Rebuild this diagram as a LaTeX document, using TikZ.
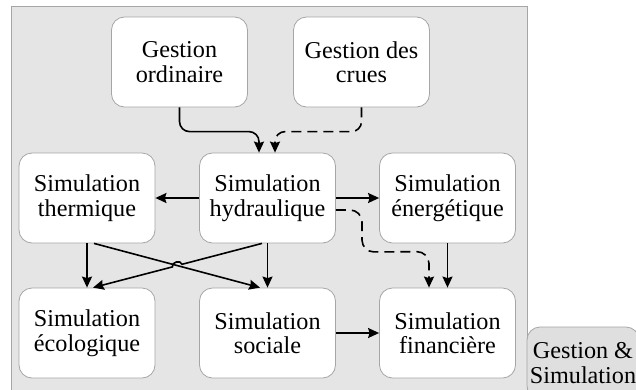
\documentclass[tikz,border=0pt]{standalone}
\usepackage{fontspec}
\setmainfont{Liberation Serif}
\usetikzlibrary{arrows.meta,calc}
\begin{document}
\begin{tikzpicture}[x=1pt,y=-1pt,
  box/.style={draw=gray!70, fill=white, rounded corners=13pt, line width=0.8pt,
    minimum width=136pt, minimum height=90pt, align=center, inner sep=0pt,
    font=\fontsize{24.2}{24.5}\selectfont},
  arr/.style={-{Stealth[length=11pt,width=10pt,inset=1.5pt]}, line width=1.6pt},
  dsh/.style={arr, dash pattern=on 10pt off 6pt}]
\useasboundingbox (0,0) rectangle (636,389);
\clip (0,0) rectangle (636,389);
\fill[white] (0,0) rectangle (636,389);
\path[draw=gray!70, fill=gray!20, line width=0.8pt] (11,6) rectangle (527,400);
% nodes
\node[box] (go) at (179.5,62) {Gestion\\ordinaire};
\node[box] (gc) at (361.5,62) {Gestion des\\crues};
\node[box] (th) at (87,198) {Simulation\\thermique};
\node[box] (hy) at (267.5,198) {Simulation\\hydraulique};
\node[box] (en) at (447.5,198) {Simulation\\énergétique};
\node[box] (ec) at (87,333) {Simulation\\écologique};
\node[box] (so) at (267.5,333) {Simulation\\sociale};
\node[box] (fi) at (447.5,333) {Simulation\\financière};
\node[box, fill=gray!25, minimum width=112pt, minimum height=72pt] (gs) at (583,363) {Gestion \&\\Simulation};
% connectors
\draw[arr, rounded corners=10pt] (go.south) |- ($(hy.north)+(-8.5,-21)$) -- ($(hy.north)+(-8.5,0)$);
\draw[dsh, rounded corners=10pt] (gc.south) |- ($(hy.north)+(7.5,-21)$) -- ($(hy.north)+(7.5,0)$);
\draw[arr] (hy.west) -- (th.east);
\draw[arr] (hy.east) -- (en.west);
\draw[arr] (so.east) -- (fi.west);
\draw[arr] (th.south) -- (ec.north);
\draw[arr] (hy.south) -- (so.north);
\draw[arr] (en.south) -- (fi.north);
\draw[arr] ($(th.south)+(7,0)$) -- ($(so.north)+(-7.5,0)$);
\draw[arr] ($(hy.south)+(-5.5,0)$) -- (182.0,264.3) .. controls (180.7,259.5) and (171.1,262.1) .. (172.4,266.9) -- ($(ec.north)+(6,0)$);
\draw[dsh, rounded corners=12pt] ($(hy.east)+(0,12)$) -- (362,210) -- (362,252) -- ($(fi.north)+(-18.5,-36)$) -- ($(fi.north)+(-18.5,0)$);
\end{tikzpicture}
\end{document}
